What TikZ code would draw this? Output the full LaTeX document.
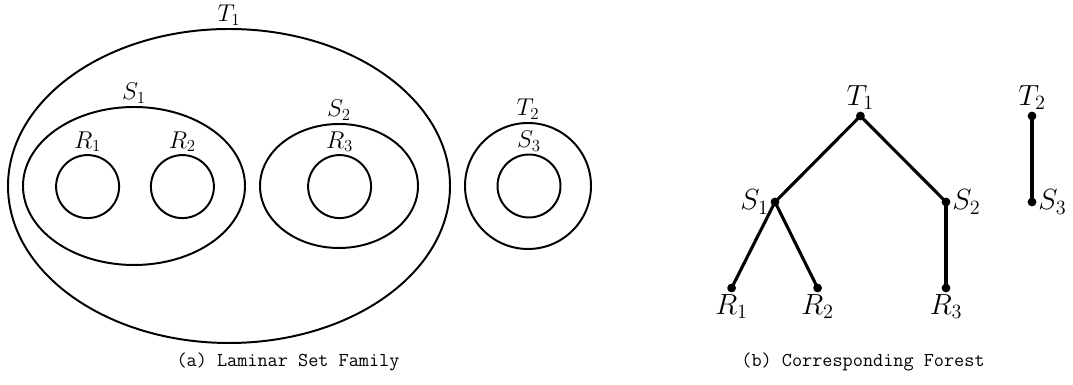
\documentclass[tikz,border=0pt]{standalone}
\usepackage{tikz}
\usetikzlibrary{positioning, shapes.geometric}
\tikzset{
	captiontext/.style={font=\fontsize{14}{16}\selectfont\ttfamily}
}
\begin{document}
\begin{tikzpicture}

      \tikzset{
        setnode/.style={
            shape=ellipse,
            draw=black,
            line width=1.4pt,
            inner sep=0pt,
            label distance=0pt,
            label={[font=\LARGE, inner sep=1.5pt]above:#1}
          },
        treenode/.style={
            shape=circle,
            fill=black,
            minimum size=2.2mm,
            inner sep=0pt
          },
        treelabel/.style={font=\huge, inner sep=1pt},
        treeedge/.style={line width=2.2pt}
      }

      \useasboundingbox (0,0) rectangle (26.825,9.625);

      % (a) laminar family
      \node[setnode=$T_1$, minimum width=11.05cm, minimum height=7.85cm] (t1) at (5.725,4.975) {};
      \node[setnode=$S_1$, minimum width=5.55cm, minimum height=3.95cm] (s1) at (3.35,4.975) {};
      \node[setnode=$S_2$, minimum width=3.95cm, minimum height=3.1cm] (s2) at (8.475,4.975) {};
      \node[setnode=$R_1$, minimum width=1.575cm, minimum height=1.575cm] (r1) at (2.19,4.96) {};
      \node[setnode=$R_2$, minimum width=1.575cm, minimum height=1.575cm] (r2) at (4.56,4.96) {};
      \node[setnode=$R_3$, minimum width=1.575cm, minimum height=1.575cm] (r3) at (8.49,4.96) {};
      \node[setnode=$T_2$, minimum width=3.15cm, minimum height=3.15cm] (t2) at (13.2,4.975) {};
      \node[setnode=$S_3$, minimum width=1.575cm, minimum height=1.575cm] (s3) at (13.225,4.975) {};

      \node[captiontext] (capa) at (7.2,0.575) {(a) Laminar Set Family};

      % (b) forest
      \node[treenode, label={[treelabel]above:$T_1$}] (n-t1) at (21.51,6.725) {};
      \node[treenode, label={[treelabel]left:$S_1$}] (n-s1) at (19.375,4.575) {};
      \node[treenode, label={[treelabel]right:$S_2$}] (n-s2) at (23.65,4.575) {};
      \node[treenode, label={[treelabel]below:$R_1$}] (n-r1) at (18.29,2.425) {};
      \node[treenode, label={[treelabel]below:$R_2$}] (n-r2) at (20.44,2.425) {};
      \node[treenode, label={[treelabel]below:$R_3$}] (n-r3) at (23.65,2.425) {};
      \node[treenode, label={[treelabel]above:$T_2$}] (n-t2) at (25.8,6.725) {};
      \node[treenode, label={[treelabel]right:$S_3$}] (n-s3) at (25.8,4.575) {};

      \draw[treeedge] (n-t1.center) -- (n-s1.center);
      \draw[treeedge] (n-t1.center) -- (n-s2.center);
      \draw[treeedge] (n-s1.center) -- (n-r1.center);
      \draw[treeedge] (n-s1.center) -- (n-r2.center);
      \draw[treeedge] (n-s2.center) -- (n-r3.center);
      \draw[treeedge] (n-t2.center) -- (n-s3.center);

      \node[captiontext] (capb) at (21.575,0.575) {(b) Corresponding Forest};
    \end{tikzpicture}
\end{document}
